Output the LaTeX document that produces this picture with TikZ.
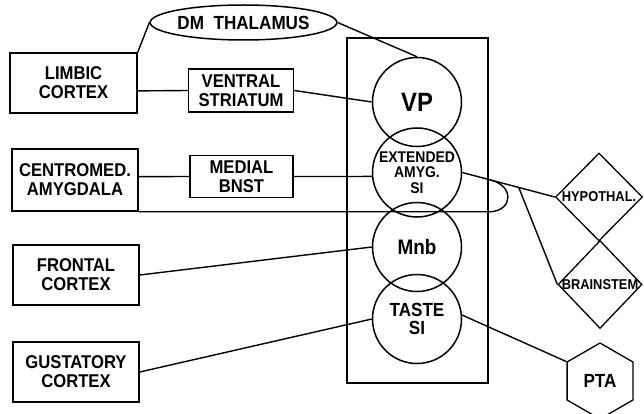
\documentclass[tikz,border=0pt]{standalone}
\usepackage{fontspec}
\setmainfont{Liberation Sans}[FakeStretch=0.9]
\usetikzlibrary{shapes.geometric,calc}

\begin{document}
\begin{tikzpicture}
[x=1pt,y=-1pt,
  boxDecorate/.style={shape=rectangle,draw,line width=1.5pt,inner sep=0pt,align=center,%
    font=\bfseries\fontsize{18.5}{19}\selectfont},
  ovalDecorate/.style={shape=ellipse,draw,line width=1.5pt,inner sep=0pt,%
    minimum width=163,minimum height=35,font=\bfseries\fontsize{19}{19}\selectfont},
  circleDecorate/.style={shape=circle,draw,line width=1.5pt,inner sep=0pt,minimum size=89},
  diamondDecorate/.style={shape=diamond,draw,line width=1.3pt,inner sep=0pt,%
    minimum width=87,minimum height=88},
  hexDecorate/.style={shape=regular polygon,regular polygon sides=6,regular polygon rotate=30,%
    draw,line width=1.3pt,inner sep=0pt,minimum size=76,font=\bfseries\fontsize{19}{19}\selectfont},
  inText/.style={align=center,inner sep=0pt,font=\bfseries\fontsize{#1}{#1}\selectfont},
  lineDecorate/.style={-,line width=1.4pt}]
\useasboundingbox (0,0) rectangle (644,414);
%% core box
\node (core) at (417.5,210.5) [draw,line width=1.6pt,minimum width=141,minimum height=345] {};
%% input boxes
\foreach \nodename/\x/\y/\w/\h/\txt in {
  limbic/73.5/83/127/60/{LIMBIC\\CORTEX},
  ventral/241/90.5/105/43/{VENTRAL\\STRIATUM},
  centromed/75/180/126/62/{CENTROMED.\\AMYGDALA},
  medial/241.5/176.5/103/42/{MEDIAL\\BNST},
  frontal/76/275/126/60/{FRONTAL\\CORTEX},
  gustatory/76/372/126/60/{GUSTATORY\\CORTEX}}
{
  \node (\nodename) at (\x,\y) [boxDecorate,minimum width=\w,minimum height=\h] {\txt};
}
\node (dmthal) at (243.5,22.5) [ovalDecorate] {DM~~THALAMUS};
%% regions
\node (vp) at (417,102) [circleDecorate,label={[inText=26.5]center:VP}] {};
\node (ext) at (417,172.5) [circleDecorate,label={[inText=15.5]center:EXTENDED\\AMYG.\\SI}] {};
\node (mnb) at (417,247) [circleDecorate,label={[inText=21]center:Mnb}] {};
\node (taste) at (417,319) [circleDecorate,label={[inText=19]center:TASTE\\[-1pt]SI}] {};
%% targets
\node (hyp) at (599,197) [diamondDecorate,label={[inText=14.3]center:HYPOTHAL.}] {};
\node (brs) at (600,284.5) [diamondDecorate,minimum width=84,label={[inText=14.3]center:BRAINSTEM}] {};
\node (pta) at (600,381) [hexDecorate] {PTA};
%% branch points
\coordinate (br) at ($(ext.east)!0.61!(hyp.west)$);
\coordinate (lp) at ($(ext.east)!0.31!(hyp.west)$);
\coordinate (lpe) at (lp |- centromed.south east);
%% edges or lines
\path
\foreach \startnode/\endnode in {
  limbic.north east/dmthal.west, dmthal.east/vp.north,
  limbic.353/ventral.west, ventral.east/vp.west,
  centromed.3/medial.west, medial.east/ext.185,
  ext.east/hyp.west, br/brs.west,
  mnb.west/frontal.east, taste.west/gustatory.east,
  taste.5/pta.150}
{
  (\startnode) edge[lineDecorate] (\endnode)
};
\draw[lineDecorate] (lp) .. controls (514,186) and (513,210) .. (lpe) -- (centromed.south east);
\end{tikzpicture}
\end{document}
